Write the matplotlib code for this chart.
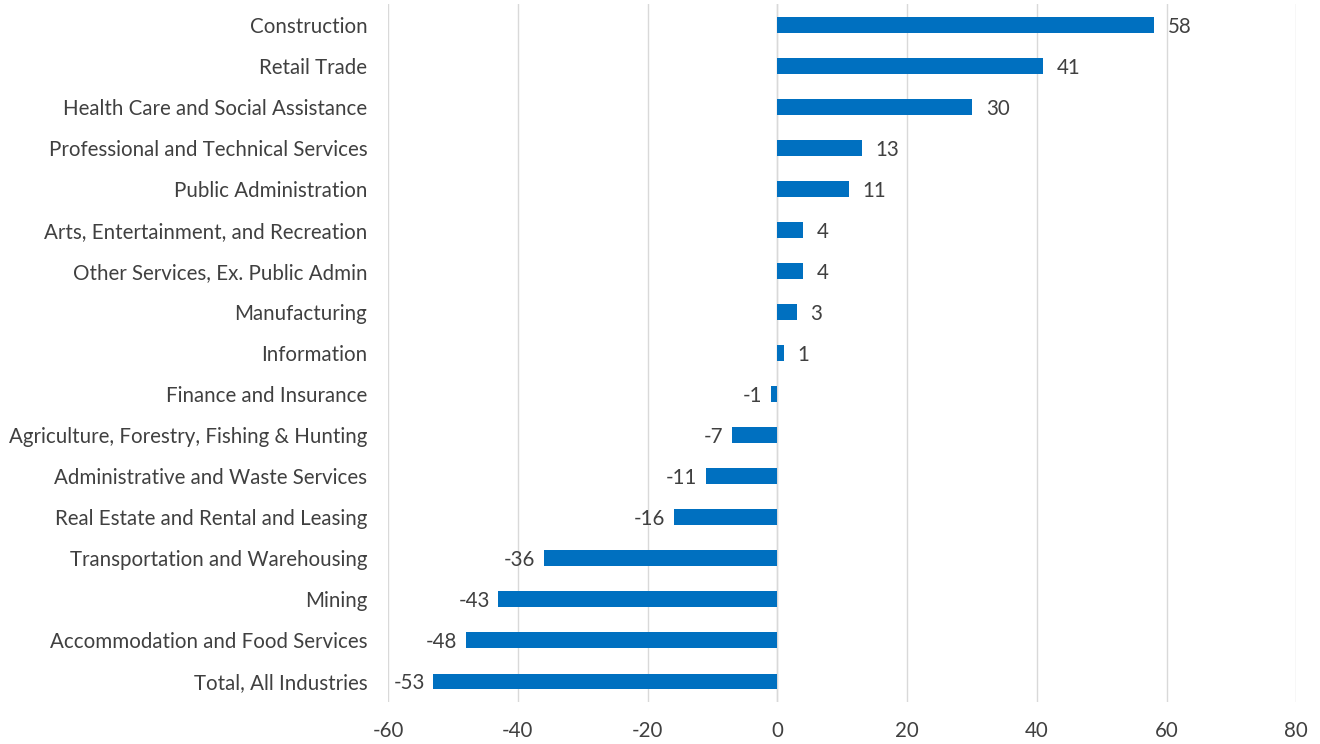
import matplotlib.pyplot as plt
import numpy as np

plt.rcParams['font.family'] = ['Lato', 'DejaVu Sans']

industries = [
    "Construction",
    "Retail Trade",
    "Health Care and Social Assistance",
    "Professional and Technical Services",
    "Public Administration",
    "Arts, Entertainment, and Recreation",
    "Other Services, Ex. Public Admin",
    "Manufacturing",
    "Information",
    "Finance and Insurance",
    "Agriculture, Forestry, Fishing & Hunting",
    "Administrative and Waste Services",
    "Real Estate and Rental and Leasing",
    "Transportation and Warehousing",
    "Mining",
    "Accommodation and Food Services",
    "Total, All Industries",
]
values = [58, 41, 30, 13, 11, 4, 4, 3, 1, -1, -7, -11, -16, -36, -43, -48, -53]
xticks = [-60, -40, -20, 0, 20, 40, 60, 80]

txt = '#404040'
fs = 14.8

fig = plt.figure(figsize=(13.2, 7.44), dpi=100)
ax = fig.add_axes([0.294, 0.057, 0.688, 0.937])

y = np.arange(len(industries))
ax.barh(y, values, height=0.37, color='#0070C0', zorder=3)

for yi, v in zip(y, values):
    if v >= 0:
        ax.annotate(str(v), (v, yi), xytext=(10, -1.5), textcoords='offset points',
                    ha='left', va='center', fontsize=fs, color=txt)
    else:
        ax.annotate(str(v), (v, yi), xytext=(-6, -1.5), textcoords='offset points',
                    ha='right', va='center', fontsize=fs, color=txt)

ax.set_yticks(y)
ax.set_yticklabels(industries, fontsize=fs, color=txt)
ax.set_ylim(len(industries) - 0.5, -0.5)
ax.set_xlim(-60, 80)
ax.set_xticks(xticks)
ax.set_xticklabels([str(t) for t in xticks], fontsize=fs, color=txt)

ax.grid(axis='x', color='#D9D9D9', linewidth=1, zorder=0)
ax.axvline(0, color='#D9D9D9', linewidth=1, zorder=2)
for s in ax.spines.values():
    s.set_visible(False)
ax.tick_params(axis='y', length=0, pad=15)
ax.tick_params(axis='x', length=0, pad=14)

fig.savefig('out.png', dpi=100)
